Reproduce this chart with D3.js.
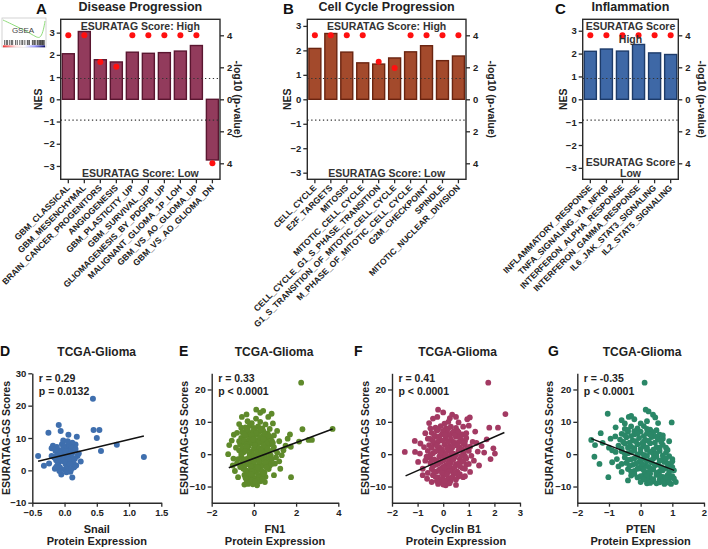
<!DOCTYPE html>
<html>
<head>
<meta charset="utf-8">
<script src="https://cdn.jsdelivr.net/npm/d3@7"></script>
<style>
  body { margin: 0; background: #fff; }
  svg { font-family: "Liberation Sans", Arial, sans-serif; font-weight: bold; }
</style>
</head>
<body>
<svg id="fig" width="708" height="549"></svg>
<script>
// ---- GSEA bar panels (NES + -log10 p) ----
const diseaseSets = ['GBM_CLASSICAL', 'GBM_MESENCHYMAL', 'BRAIN_CANCER_PROGENITORS', 'ANGIOGENESIS',
  'GBM_PLASTICITY_UP', 'GBM_SURVIVAL_UP', 'GLIOMAGENESIS_BY_PDGFB_UP', 'MALIGNANT_GLIOMA_1P_LOH',
  'GBM_VS_AO_GLIOMA_UP', 'GBM_VS_AO_GLIOMA_DN'];
const diseaseNES = [2.05, 3.05, 1.78, 1.68, 2.12, 2.07, 2.1, 2.17, 2.42, -2.73];
const diseaseLogP = [4, 4, 2.33, 2.04, 4, 4, 4, 4, 4, 4];

const cycleSets = ['CELL_CYCLE', 'E2F_TARGETS', 'MITOSIS', 'MITOTIC_CELL_CYCLE',
  'CELL_CYCLE_G1_S_PHASE_TRANSITION', 'G1_S_TRANSITION_OF_MITOTIC_CELL_CYCLE',
  'M_PHASE_OF_MITOTIC_CELL_CYCLE', 'G2M_CHECKPOINT', 'SPINDLE', 'MITOTIC_NUCLEAR_DIVISION'];
const cycleNES = [2.08, 2.69, 1.93, 1.49, 1.44, 1.69, 1.94, 2.19, 1.58, 1.77];
const cycleLogP = [4, 4, 4, 4, 2.35, 1.96, 4, 4, 4, 4];

const inflamSets = ['INFLAMMATORY_RESPONSE', 'TNFA_SIGNALING_VIA_NFKB', 'INTERFERON_ALPHA_RESPONSE',
  'INTERFERON_GAMMA_RESPONSE', 'IL6_JAK_STAT3_SIGNALING', 'IL2_STAT5_SIGNALING'];
const inflamNES = [2.1, 2.2, 2.11, 2.4, 2.03, 1.96];
const inflamLogP = [4, 4, 4, 4, 4, 4];

const sigLevel = 1.3; // -log10(0.05)
const nesTicks = [-3, -2, -1, 0, 1, 2, 3];
const pTicks = [-4, -2, 0, 2, 4];

// ---- scatter panels (TCGA-Glioma) ----
const snailPts = [[0.44,22.1],[0.45,12.5],[0.54,12.5],[0.50,10.0],[0.565,6.0],[0.81,7.9],[1.23,4.1],
  [-0.09,14.0],[-0.25,11.6],[-0.06,12.2],[0.06,11.0],[0.19,10.4],[-0.41,4.4],[-0.32,1.4],[-0.24,2.1],
  [-0.2,4.4],[-0.05,-1.25],[0.12,-2.2],[-0.15,0.5],[0.14,0.9],[0.2,4.4],[0.17,8.0],[0.12,8.5],
  [-0.12,7.2],[-0.08,6.1],[-0.04,8.1],[0.0,7.5],[0.03,6.6],[0.07,7.9],[0.1,6.3],[-0.1,5.0],[-0.06,4.2],
  [-0.02,5.5],[0.01,3.9],[0.04,5.0],[0.08,4.5],[0.13,5.6],[0.16,3.6],[-0.13,3.1],[-0.09,2.4],[-0.03,2.9],
  [0.02,1.8],[0.06,2.6],[0.1,3.2],[0.14,2.2],[-0.07,0.9],[0.0,0.2],[0.05,1.0],[0.09,-0.4],[-0.11,1.6],
  [0.18,1.5],[-0.16,4.0],[0.22,5.2],[-0.02,9.2],[0.05,9.0],[-0.14,6.0],[0.11,7.0],[0.03,3.2],[-0.05,3.6],
  [0.07,5.8],[0.0,4.6],[-0.01,6.8],[0.15,1.0],[0.03,-0.6],[-0.08,-0.2],
  [-0.1,3.8],[0.04,4.3],[-0.04,6.3],[0.09,5.3],[0.12,3.9],[-0.07,5.4],[0.02,5.9],[-0.12,4.5],[0.06,3.4],
  [0.17,6.6],[-0.18,7.6],[0.0,2.6],[0.08,2.0],[-0.13,1.0],[0.1,0.3],[-0.2,6.8],[0.25,2.7]];
const snailFit = [[-0.41, 2.8], [1.23, 10.6]];

const fn1Pts = [[2.24,22.1],[3.73,7.8],[2.3,7.7],[2.59,4.4],[2.75,4.4],[2.14,3.9],[1.71,6.1],[1.75,2.3],
  [1.76,-7.1],[0.11,13.75],[0.44,13.4],[0.84,12.5],[0.68,11.5],[-0.57,11.5],[-1.17,2.8],[-1.22,0],
  [-0.97,-1.35],[-0.75,-7.1],[-0.27,-9.2],[0.52,-8.6],[1.0,-2.9],[1.32,-0.3],[-1.05,4.2],[-0.85,2.0],
  [-1.0,-3.5],[1.5,2.6],[1.2,4.0],[1.1,7.2],[0.9,9.5],[-0.35,12.3],[0.3,12.8],[1.4,1.2],[1.25,-4.5],
  [-0.9,-5.2],[0.95,-6.5],[-0.45,-9.4],[0.15,-9.6],[-0.6,8.2],[-0.95,6.0],[1.6,4.8],
  [-0.4,8.3],[-0.2,8.8],[0.0,8.1],[0.2,8.6],[0.4,8.0],[-0.1,9.6],[0.55,9.2],
  [-0.55,6.8],[-0.35,7.2],[-0.15,6.5],[0.05,7.4],[0.25,6.9],[0.45,7.1],[0.65,6.4],[-0.25,6.0],[0.15,6.1],
  [-0.6,5.0],[-0.4,5.6],[-0.2,4.6],[0.0,5.3],[0.2,4.4],[0.4,5.5],[0.6,4.8],[0.8,5.2],[-0.3,4.1],[0.1,4.0],[0.5,4.2],
  [-0.65,3.0],[-0.45,3.6],[-0.25,2.5],[-0.05,3.3],[0.15,2.7],[0.35,3.5],[0.55,2.4],[0.75,3.1],[0.95,2.2],
  [-0.15,3.8],[0.25,3.9],[0.05,2.1],
  [-0.7,1.2],[-0.5,0.5],[-0.3,1.6],[-0.1,0.8],[0.1,1.5],[0.3,0.3],[0.5,1.1],[0.7,0.6],[0.9,1.4],
  [-0.2,0.1],[0.2,-0.1],[0.0,1.9],[0.4,1.8],
  [-0.6,-0.8],[-0.4,-1.5],[-0.2,-0.6],[0.0,-1.2],[0.2,-1.8],[0.4,-0.7],[0.6,-1.4],[0.8,-0.4],[-0.1,-1.9],[0.3,-1.3],
  [-0.55,-2.6],[-0.35,-3.2],[-0.15,-2.3],[0.05,-3.6],[0.25,-2.8],[0.45,-3.4],[0.65,-2.5],[0.85,-3.0],[-0.05,-2.9],[0.15,-3.9],
  [-0.5,-4.5],[-0.3,-5.2],[-0.1,-4.3],[0.1,-5.5],[0.3,-4.8],[0.5,-5.7],[0.7,-4.6],[0.0,-4.9],[-0.2,-5.8],
  [-0.45,-6.4],[-0.25,-7.2],[-0.05,-6.7],[0.15,-7.5],[0.35,-6.3],[0.55,-7.0],[0.05,-7.9],[-0.35,-8.0],
  [-0.2,-8.7],[0.1,-8.9],[0.3,-8.4],[-0.05,-9.3],
  [-0.3,7.7],[-0.05,7.0],[0.3,7.6],[0.5,6.2],[-0.45,6.0],[0.1,6.6],[-0.5,4.2],[-0.1,5.8],[0.3,5.1],[0.7,5.7],
  [-0.35,3.0],[-0.05,4.6],[0.45,4.7],[0.65,3.6],[0.85,4.1],[-0.55,2.0],[-0.35,2.3],[0.05,2.8],[0.25,1.8],
  [0.45,2.6],[0.65,1.6],[-0.6,0.1],[-0.4,1.0],[0.0,-0.3],[0.15,0.6],[0.35,1.2],[0.55,0.2],[0.75,-0.9],
  [-0.5,-1.8],[-0.25,-1.2],[0.1,-0.9],[0.25,-2.3],[0.5,-2.0],[0.7,-1.9],[-0.45,-3.6],[-0.25,-2.9],[0.0,-2.2],
  [0.35,-3.9],[0.55,-2.6],[0.75,-3.6],[-0.4,-5.0],[-0.15,-3.8],[0.2,-4.2],[0.4,-5.3],[0.6,-4.1],[-0.3,-6.0],
  [-0.1,-5.4],[0.2,-6.4],[0.45,-6.0],[-0.4,-7.3],[-0.15,-6.1],[0.25,-7.0],[-0.1,-8.2],[0.2,-8.0],[0.4,-7.7],
  [-0.3,-8.9],[0.05,-8.5],[0.85,-1.5],[0.9,3.5],[-0.7,4.0],[-0.75,-1.5],[-0.65,-4.0],[1.1,0.5],[1.05,-1.0],
  [0.95,5.8],[0.75,7.8],[-0.8,6.6],[-0.8,-2.8],[0.3,10.0],[-0.3,10.2],[0.1,11.0],[-0.7,9.3],[1.2,-2.2]];
const fn1Fit = [[-1.19, -4.2], [3.73, 7.8]];

const cyclinPts = [[1.76,22.1],[2.43,12.4],[1.04,11.35],[0.94,10.8],[1.8,8.2],[2.14,8.2],[-1.5,0.7],
  [-1.11,4.1],[-1.1,0.7],[-0.91,0.2],[-0.89,3.3],[-0.98,-2.4],[-0.2,13.75],[0.0,12.9],[-0.23,11.5],
  [0.26,11.1],[0.78,8.5],[1.96,1.8],[2.02,0.2],[-0.63,-7.6],[-0.2,-9.2],[0.78,-7.1],[1.3,3.5],[1.5,2.5],
  [1.6,0.5],[1.2,-2.0],[1.4,-3.5],[1.7,4.6],[1.25,7.0],[0.6,9.8],[-0.55,9.6],[-0.7,6.5],[-0.8,-4.5],
  [1.05,-5.5],[0.5,-9.5],[0.1,-9.6],[-0.45,-8.6],[0.35,12.2],[-0.6,4.8],[1.85,-1.5],
  [-0.3,8.2],[-0.1,8.7],[0.1,7.9],[0.3,8.5],[0.5,8.1],[0.05,9.4],
  [-0.45,6.6],[-0.25,7.3],[-0.05,6.2],[0.15,7.0],[0.35,6.5],[0.55,7.3],[0.75,6.1],[0.25,5.9],
  [-0.5,4.7],[-0.3,5.4],[-0.1,4.3],[0.1,5.1],[0.3,4.6],[0.5,5.4],[0.7,4.5],[0.9,5.0],[-0.2,3.9],[0.4,3.8],
  [-0.55,2.8],[-0.35,3.3],[-0.15,2.2],[0.05,3.0],[0.25,2.5],[0.45,3.2],[0.65,2.1],[0.85,2.9],[1.05,2.3],[0.15,1.9],
  [-0.6,1.0],[-0.4,0.3],[-0.2,1.3],[0.0,0.6],[0.2,1.1],[0.4,0.2],[0.6,1.2],[0.8,0.4],[1.0,1.0],[-0.1,-0.2],[0.3,-0.3],
  [-0.55,-1.0],[-0.35,-1.6],[-0.15,-0.7],[0.05,-1.4],[0.25,-1.9],[0.45,-0.9],[0.65,-1.5],[0.85,-0.6],[0.15,-1.0],
  [-0.5,-2.7],[-0.3,-3.3],[-0.1,-2.4],[0.1,-3.5],[0.3,-2.6],[0.5,-3.1],[0.7,-2.4],[0.9,-3.2],[0.0,-3.9],
  [-0.45,-4.6],[-0.25,-5.3],[-0.05,-4.4],[0.15,-5.6],[0.35,-4.7],[0.55,-5.4],[0.75,-4.3],[0.1,-4.9],
  [-0.4,-6.5],[-0.2,-7.2],[0.0,-6.6],[0.2,-7.4],[0.4,-6.2],[0.6,-6.9],[-0.1,-7.9],[0.3,-8.1],
  [-0.15,-8.7],[0.15,-8.9],[0.0,-9.4],
  [-0.2,7.6],[0.0,7.2],[0.2,8.0],[0.4,7.0],[0.6,6.8],[-0.35,5.9],[-0.15,5.5],[0.05,6.0],[0.45,5.9],[0.65,5.3],
  [0.85,4.0],[-0.4,4.0],[0.0,4.2],[0.2,3.8],[0.6,3.7],[0.8,3.3],[-0.45,2.0],[-0.25,2.7],[-0.05,1.5],[0.35,2.0],
  [0.55,2.6],[0.75,1.5],[0.95,1.8],[-0.5,-0.3],[-0.3,0.9],[-0.1,0.3],[0.1,-0.2],[0.3,0.8],[0.5,-0.1],[0.7,-0.5],
  [0.9,-1.3],[-0.45,-1.9],[-0.25,-2.1],[0.0,-2.0],[0.2,-2.8],[0.4,-1.6],[0.6,-2.9],[0.8,-2.1],[-0.4,-3.7],
  [-0.2,-3.0],[0.05,-4.2],[0.25,-3.8],[0.45,-4.0],[0.65,-3.7],[0.85,-4.5],[-0.35,-5.5],[-0.15,-4.8],[0.25,-5.2],
  [0.45,-5.9],[0.65,-6.2],[-0.3,-7.0],[-0.05,-5.8],[0.15,-6.3],[0.35,-7.2],[0.5,-7.8],[-0.25,-8.3],[0.05,-8.1],
  [0.25,-9.0],[-0.6,-5.8],[-0.7,-2.0],[-0.75,2.2],[1.1,-0.5],[1.15,3.8],[1.0,-3.0],[0.9,6.5],[-0.5,8.0],
  [0.2,10.0],[-0.4,11.0],[0.5,11.5],[1.0,8.8],[-0.8,-6.5],[0.85,-6.8],[1.35,0.8],[-0.65,-0.8]];
const cyclinFit = [[-1.47, -6.7], [2.39, 6.7]];

const ptenPts = [[0.125,22.1],[-1.04,12.5],[-0.375,11.5],[0.16,13.75],[0.25,13.2],[0.39,12.2],[0.46,11.35],
  [0.98,9.8],[-1.56,4.4],[-1.26,6.5],[-1.44,2.8],[-1.46,-0.8],[-1.02,-7.1],[-0.79,0.7],[-0.79,8.3],
  [0.75,-9.2],[0.96,-9.2],[1.11,-8.6],[-0.4,-8.1],[-1.2,3.5],[-1.0,2.0],[-0.9,-2.5],[-0.6,10.5],
  [-0.2,10.8],[0.7,4.8],[0.85,-6.5],[1.05,-5.0],[0.95,-3.0],[0.6,-8.7],[-0.6,-5.5],[0.2,-9.0],
  [-0.95,4.8],[0.8,2.0],[1.0,-1.5],[-0.7,-3.8],
  [-0.5,7.8],[-0.3,8.6],[-0.1,8.0],[0.1,8.7],[0.3,7.6],[0.0,9.5],
  [-0.6,6.3],[-0.4,6.9],[-0.2,6.1],[0.0,7.0],[0.2,6.4],[0.4,6.8],[0.6,6.0],
  [-0.65,4.5],[-0.45,5.2],[-0.25,4.2],[-0.05,5.0],[0.15,4.4],[0.35,5.3],[0.55,4.6],[0.1,3.9],
  [-0.7,2.6],[-0.5,3.3],[-0.3,2.3],[-0.1,3.1],[0.1,2.5],[0.3,3.4],[0.5,2.2],[0.7,2.9],[-0.2,1.9],
  [-0.6,0.9],[-0.4,0.3],[-0.2,1.1],[0.0,0.5],[0.2,1.3],[0.4,0.2],[0.6,1.0],[0.8,0.5],[0.1,-0.2],
  [-0.5,-1.0],[-0.3,-1.6],[-0.1,-0.7],[0.1,-1.4],[0.3,-1.9],[0.5,-0.8],[0.7,-1.5],[0.9,-0.6],[0.2,-0.5],
  [-0.45,-2.7],[-0.25,-3.3],[-0.05,-2.4],[0.15,-3.6],[0.35,-2.6],[0.55,-3.2],[0.75,-2.4],[0.9,-3.5],[0.0,-3.9],
  [-0.4,-4.6],[-0.2,-5.2],[0.0,-4.4],[0.2,-5.6],[0.4,-4.7],[0.6,-5.3],[0.8,-4.3],[0.3,-6.0],
  [-0.3,-6.6],[-0.1,-7.2],[0.1,-6.5],[0.3,-7.3],[0.5,-6.4],[0.7,-7.0],[0.9,-7.6],[0.2,-8.0],
  [0.4,-8.4],[0.6,-7.9],[0.8,-8.6],[0.0,-8.6],
  [-0.4,7.5],[-0.2,7.1],[0.2,7.8],[0.5,7.4],[-0.5,5.9],[-0.3,5.6],[-0.1,6.5],[0.1,5.6],[0.3,6.0],[0.5,5.4],
  [0.7,5.8],[-0.55,3.8],[-0.35,3.6],[-0.15,4.0],[0.05,3.3],[0.25,4.1],[0.45,3.6],[0.65,3.8],[-0.6,1.7],
  [-0.4,2.0],[0.0,1.6],[0.2,2.0],[0.4,1.4],[0.6,2.0],[0.85,1.3],[-0.5,0.2],[-0.3,0.6],[-0.1,-0.1],[0.3,0.7],
  [0.5,0.3],[0.7,-0.4],[-0.4,-1.8],[-0.2,-1.3],[0.0,-1.9],[0.2,-2.2],[0.4,-1.3],[0.6,-2.0],[0.8,-1.4],
  [1.0,-2.2],[-0.35,-3.6],[-0.15,-2.9],[0.05,-3.0],[0.25,-3.9],[0.45,-3.4],[0.65,-4.0],[0.85,-2.9],
  [-0.3,-5.4],[-0.1,-4.5],[0.1,-5.0],[0.3,-4.4],[0.5,-5.8],[0.7,-5.0],[0.9,-5.5],[-0.2,-6.1],[0.0,-6.8],
  [0.2,-6.8],[0.4,-7.7],[0.6,-6.6],[0.8,-7.2],[1.0,-6.8],[0.1,-7.8],[0.3,-8.9],[0.5,-9.0],[0.7,-8.3],
  [0.9,-8.8],[-0.8,5.5],[-0.9,1.2],[-0.75,-1.5],[-0.6,-3.0],[1.0,-4.0],[0.9,4.0],[-0.5,9.5],[0.2,10.2],
  [0.55,9.6],[-0.3,11.8],[1.05,-7.5],[-1.3,-3.0]];
const ptenFit = [[-1.56, 4.8], [1.06, -5.0]];

// GSEA logo bits (unit box coords)
const logoCurve = [[0, 0.05], [0.2, 0.25], [0.45, 0.5], [0.65, 0.72], [0.8, 0.92], [0.9, 0.95], [0.97, 0.5], [1, 0.1]];
const logoBars = [0.04, 0.08, 0.11, 0.16, 0.2, 0.23, 0.3, 0.34, 0.4, 0.45, 0.47, 0.52, 0.58, 0.6, 0.63,
  0.7, 0.72, 0.75, 0.78, 0.82, 0.84, 0.87, 0.89, 0.9, 0.92, 0.94, 0.95, 0.97, 0.98];

const svg = d3.select('#fig');
const INK = '#2b2b2b';

function styleAxis(sel, size) {
  sel.attr('font-family', '"Liberation Sans", Arial, sans-serif');
  sel.selectAll('.tick line').attr('stroke', INK).attr('stroke-width', 1.3);
  sel.selectAll('.domain').attr('stroke', INK).attr('stroke-width', 1.4);
  sel.selectAll('text').attr('font-size', size || 9.5).attr('font-weight', 'bold').attr('fill', '#222');
}

function barPanel(o) {
  const top = 19.3, bottom = 179.3;
  const x = d3.scaleBand().domain(o.sets).range([o.left, o.right]).paddingInner(0.25).paddingOuter(0.1);
  const y = d3.scaleLinear().domain([-o.nesMax, o.nesMax]).range([bottom, top]);
  const yp = d3.scaleLinear().domain([-5, 5]).range([bottom, top]);
  const g = svg.append('g');

  g.selectAll('rect.bar').data(o.sets).join('rect').attr('class', 'bar')
    .attr('x', d => x(d)).attr('width', x.bandwidth())
    .attr('y', (d, i) => y(Math.max(0, o.nes[i])))
    .attr('height', (d, i) => Math.abs(y(o.nes[i]) - y(0)))
    .attr('fill', o.fill).attr('stroke', o.stroke).attr('stroke-width', 1.4);

  // p = 0.05 guides, both directions
  g.selectAll('line.sig').data([sigLevel, -sigLevel]).join('line').attr('class', 'sig')
    .attr('x1', o.left).attr('x2', o.right).attr('y1', d => yp(d)).attr('y2', d => yp(d))
    .attr('stroke', '#333').attr('stroke-width', 1.2).attr('stroke-dasharray', '1.3,2.6');

  g.selectAll('circle.p').data(o.sets).join('circle').attr('class', 'p')
    .attr('cx', d => x(d) + x.bandwidth() / 2)
    .attr('cy', (d, i) => yp(Math.sign(o.nes[i]) * o.logp[i]))
    .attr('r', 3).attr('fill', '#ff1010');

  g.append('rect').attr('x', o.left).attr('y', top).attr('width', o.right - o.left).attr('height', bottom - top)
    .attr('fill', 'none').attr('stroke', INK).attr('stroke-width', 1.4);

  const ax = g.append('g').attr('transform', `translate(${o.left},0)`)
    .call(d3.axisLeft(y).tickValues(nesTicks).tickFormat(d3.format('d')).tickSize(4).tickSizeOuter(0).tickPadding(2));
  ax.select('.domain').remove();
  styleAxis(ax);

  const ar = g.append('g').attr('transform', `translate(${o.right},0)`)
    .call(d3.axisRight(yp).tickValues(pTicks).tickSize(4).tickSizeOuter(0).tickPadding(3).tickFormat(d => Math.abs(d)));
  ar.select('.domain').remove();
  styleAxis(ar);

  const ab = g.append('g').attr('transform', `translate(0,${bottom})`)
    .call(d3.axisBottom(x).tickSize(4).tickSizeOuter(0));
  ab.select('.domain').remove();
  styleAxis(ab, 8.6);
  ab.selectAll('text').attr('x', 0).attr('y', 0).attr('dy', '0.35em')
    .attr('transform', 'translate(0,7) rotate(-45)').attr('text-anchor', 'end');

  // titles and labels
  g.append('text').attr('x', o.letterX).attr('y', 14).attr('font-size', 15).attr('fill', '#111').text(o.letter);
  g.append('text').attr('x', (o.left + o.right) / 2).attr('y', 11).attr('text-anchor', 'middle')
    .attr('font-size', 12.5).attr('fill', '#222').text(o.title);
  g.append('text').attr('transform', `translate(${o.nesX},${y(0)}) rotate(-90)`).attr('text-anchor', 'middle')
    .attr('font-size', 10.5).attr('fill', '#222').text('NES');
  g.append('text').attr('transform', `translate(${o.pX},${y(0)}) rotate(90)`).attr('text-anchor', 'middle')
    .attr('font-size', 10.5).attr('fill', '#222').text('-log10 (p-value)');

  const cx = (o.left + o.right) / 2;
  o.highLines.forEach((t, i) => g.append('text').attr('x', cx).attr('y', 30 + i * 12.5)
    .attr('text-anchor', 'middle').attr('font-size', 10.5).attr('fill', '#333').text(t));
  o.lowLines.forEach((t, i) => g.append('text').attr('x', cx).attr('y', 177 - (o.lowLines.length - 1 - i) * 11)
    .attr('text-anchor', 'middle').attr('font-size', 10.5).attr('fill', '#333').text(t));
}

function scatterPanel(o) {
  const base = 502.7, topY = 373.3;
  const x = d3.scaleLinear().domain(o.xDomain).range([o.left, o.right]);
  const y = d3.scaleLinear().domain(o.yDomain).range([base, topY]);
  const g = svg.append('g');

  g.selectAll('circle').data(o.pts).join('circle')
    .attr('cx', d => x(d[0])).attr('cy', d => y(d[1])).attr('r', o.r0 || 2.9).attr('fill', o.color);

  g.append('path').datum(o.fit)
    .attr('d', d3.line().x(d => x(d[0])).y(d => y(d[1])))
    .attr('stroke', '#111').attr('stroke-width', 1.5).attr('fill', 'none');

  const ay = g.append('g').attr('transform', `translate(${o.left},0)`)
    .call(d3.axisLeft(y).tickValues(o.yTicks).tickSize(4).tickSizeOuter(0).tickPadding(2));
  styleAxis(ay);
  const axb = g.append('g').attr('transform', `translate(0,${base})`)
    .call(d3.axisBottom(x).tickValues(o.xTicks).tickSize(4).tickSizeOuter(0).tickPadding(3).tickFormat(o.xFormat));
  styleAxis(axb);

  const mid = (o.left + o.right) / 2;
  g.append('text').attr('x', o.letterX).attr('y', 356).attr('font-size', 14).attr('fill', '#111').text(o.letter);
  g.append('text').attr('x', o.titleX).attr('y', 356).attr('text-anchor', 'middle').attr('font-size', 12)
    .attr('fill', '#222').text('TCGA-Glioma');
  g.append('text').attr('x', o.left + 6.5).attr('y', 382).attr('font-size', 10.5).attr('fill', '#222').text(o.r);
  g.append('text').attr('x', o.left + 6.5).attr('y', 394.5).attr('font-size', 10.5).attr('fill', '#222').text(o.p);
  g.append('text').attr('x', mid).attr('y', 533).attr('text-anchor', 'middle').attr('font-size', 11)
    .attr('fill', '#222').text(o.gene);
  g.append('text').attr('x', mid).attr('y', 545).attr('text-anchor', 'middle').attr('font-size', 11)
    .attr('fill', '#222').text('Protein Expression');
  g.append('text').attr('transform', `translate(${o.yLabelX},438) rotate(-90)`).attr('text-anchor', 'middle')
    .attr('font-size', 10.5).attr('fill', '#222').text('ESURATAG-GS Scores');
}

// ---- GSEA logo ----
(function logo() {
  const g = svg.append('g');
  const lx = d3.scaleLinear().domain([0, 1]).range([3, 45]);
  const ly = d3.scaleLinear().domain([0, 1]).range([19, 39]);
  g.append('rect').attr('x', 2).attr('y', 18).attr('width', 44).attr('height', 29)
    .attr('fill', '#fff').attr('stroke', '#c8c8c8').attr('stroke-width', 0.8);
  g.append('path').datum(logoCurve).attr('d', d3.line().x(d => lx(d[0])).y(d => ly(d[1])).curve(d3.curveBasis))
    .attr('stroke', '#8fdc7a').attr('stroke-width', 1).attr('fill', 'none');
  g.append('text').attr('x', 23).attr('y', 33).attr('text-anchor', 'middle').attr('font-size', 8)
    .attr('font-weight', 'normal').attr('fill', '#444').text('GSEA');
  g.selectAll('line.bc').data(logoBars).join('line').attr('class', 'bc')
    .attr('x1', d => lx(d)).attr('x2', d => lx(d)).attr('y1', 40).attr('y2', 45)
    .attr('stroke', '#333').attr('stroke-width', 0.8);
  const grad = svg.append('defs').append('linearGradient').attr('id', 'gseaGrad');
  [['0%', '#e33'], ['30%', '#fdd'], ['50%', '#fff'], ['75%', '#99f'], ['100%', '#10106a']]
    .forEach(s => grad.append('stop').attr('offset', s[0]).attr('stop-color', s[1]));
  g.append('rect').attr('x', 3).attr('y', 45.3).attr('width', 42).attr('height', 2).attr('fill', 'url(#gseaGrad)');
})();

barPanel({ sets: diseaseSets, nes: diseaseNES, logp: diseaseLogP, left: 60.7, right: 220, nesMax: 3.6,
  fill: '#923b5c', stroke: '#5a1630', letter: 'A', letterX: 36, title: 'Disease Progression',
  nesX: 41.5, pX: 234, highLines: ['ESURATAG Score: High'], lowLines: ['ESURATAG Score: Low'] });
barPanel({ sets: cycleSets, nes: cycleNES, logp: cycleLogP, left: 307.3, right: 466, nesMax: 3.27,
  fill: '#a34a2c', stroke: '#6a2410', letter: 'B', letterX: 283, title: 'Cell Cycle Progression',
  nesX: 290.5, pX: 488, highLines: ['ESURATAG Score: High'], lowLines: ['ESURATAG Score: Low'] });
barPanel({ sets: inflamSets, nes: inflamNES, logp: inflamLogP, left: 582.7, right: 678.3, nesMax: 3.5,
  fill: '#3e68a6', stroke: '#1d3b69', letter: 'C', letterX: 555, title: 'Inflammation',
  nesX: 567, pX: 697.5, highLines: ['ESURATAG Score', 'High'], lowLines: ['ESURATAG Score', 'Low'] });

scatterPanel({ pts: snailPts, fit: snailFit, xDomain: [-0.5, 1.5], yDomain: [-10, 30], left: 32.3, right: 161.3,
  xTicks: [-0.5, 0, 0.5, 1, 1.5], yTicks: [-10, 0, 10, 20, 30], xFormat: d3.format('.1f'), color: '#3f6fae',
  letter: 'D', letterX: 0, titleX: 96.7, r: 'r = 0.29', p: 'p = 0.0132', gene: 'Snail', yLabelX: 10, r0: 3 });
scatterPanel({ pts: fn1Pts, fit: fn1Fit, xDomain: [-2, 4], yDomain: [-15, 25], left: 211.7, right: 338.3,
  xTicks: [-2, 0, 2, 4], yTicks: [-10, 0, 10, 20], xFormat: d3.format('d'), color: '#5f8a2b',
  letter: 'E', letterX: 179, titleX: 274, r: 'r = 0.33', p: 'p < 0.0001', gene: 'FN1', yLabelX: 188 });
scatterPanel({ pts: cyclinPts, fit: cyclinFit, xDomain: [-2, 3], yDomain: [-15, 25], left: 392, right: 520,
  xTicks: [-2, -1, 0, 1, 2, 3], yTicks: [-10, 0, 10, 20], xFormat: d3.format('d'), color: '#a33a63',
  letter: 'F', letterX: 354, titleX: 457.5, r: 'r = 0.41', p: 'p < 0.0001', gene: 'Cyclin B1', yLabelX: 369 });
scatterPanel({ pts: ptenPts, fit: ptenFit, xDomain: [-2, 2], yDomain: [-15, 25], left: 577.3, right: 704,
  xTicks: [-2, -1, 0, 1, 2], yTicks: [-10, 0, 10, 20], xFormat: d3.format('d'), color: '#2a8767',
  letter: 'G', letterX: 548, titleX: 642, r: 'r = -0.35', p: 'p < 0.0001', gene: 'PTEN', yLabelX: 553 });
</script>
</body>
</html>
